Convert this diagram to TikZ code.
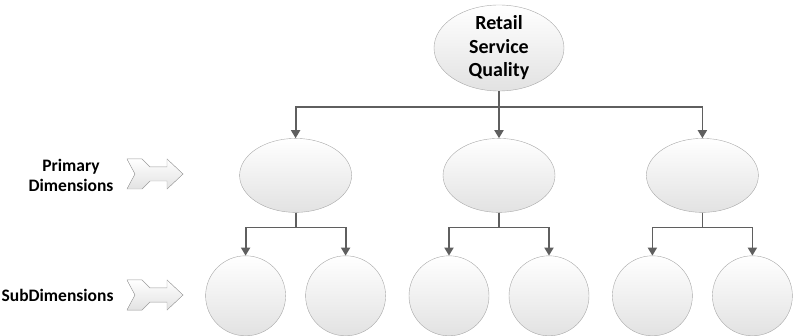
\documentclass[tikz,border=0pt]{standalone}
\usepackage{fontspec}
\setmainfont{Carlito}
\usetikzlibrary{positioning,shapes.geometric,arrows.meta}
\definecolor{linegray}{HTML}{5F5F5F}
\definecolor{rimgray}{HTML}{A8A8A8}
\definecolor{shadegray}{HTML}{E2E2E2}

\begin{document}
\begin{tikzpicture}[
    x=1pt, y=1pt,
    node distance=47pt and 91pt,
    every node/.style={font=\bfseries, align=center},
    oval/.style={ellipse, draw=rimgray, top color=white, bottom color=shadegray, inner sep=0pt},
    topoval/.style={oval, minimum width=130pt, minimum height=86pt},
    toptext/.style={font=\fontsize{20}{23.5}\selectfont\bfseries, align=center},
    primoval/.style={oval, minimum width=112pt, minimum height=74pt},
    suboval/.style={circle, draw=rimgray, top color=white, bottom color=shadegray, minimum size=80pt, inner sep=0pt},
    dimlabel/.style={font=\fontsize{17.5}{20}\selectfont\bfseries, anchor=east},
    arrow/.style={-{Triangle[length=8pt, width=9pt]}, draw=linegray, line width=1.8pt},
    chevron/.pic={
        \filldraw[draw=rimgray, top color=white, bottom color=shadegray]
          (-28,15) -- (-13,15) -- (-5,7) -- (12,7) -- (12,15) -- (28,0)
          -- (12,-15) -- (12,-7) -- (-5,-7) -- (-13,-15) -- (-28,-15) -- (-20,0) -- cycle;
    }
]
\useasboundingbox (0,0) rectangle (793,335);

% Nodes
\node[topoval, label={[toptext]center:Retail\\Service\\Quality}] (root) at (499,287) {};
\node[primoval, below=of root] (prim2) {};
\node[primoval, left=of prim2] (prim1) {};
\node[primoval, right=of prim2] (prim3) {};

\foreach \p/\a/\b in {1/1/2, 2/3/4, 3/5/6} {
  \node[suboval, below=43pt of prim\p, xshift=-50pt] (sub\a) {};
  \node[suboval, below=43pt of prim\p, xshift=50pt] (sub\b) {};
}

% Row markers
\coordinate (chevprim) at (155,161);
\coordinate (chevsub) at (155,40);
\pic at (chevprim) {chevron};
\pic at (chevsub) {chevron};
\node[dimlabel] (primlabel) at ([xshift=-38pt, yshift=-1pt]chevprim) {Primary\\Dimensions};
\node[dimlabel] (sublabel) at ([xshift=-38pt]chevsub) {SubDimensions};

% Arrows
\coordinate[below=16pt of root.south] (rootbar);
\foreach \p in {1,2,3}
  \draw[arrow] (root.south) -- (rootbar) -| (prim\p.north);

\foreach \p/\a/\b in {1/1/2, 2/3/4, 3/5/6} {
  \coordinate[below=15pt of prim\p.south] (primbar\p);
  \draw[arrow] (prim\p.south) -- (primbar\p) -| (sub\a.north);
  \draw[arrow] (prim\p.south) -- (primbar\p) -| (sub\b.north);
}

\end{tikzpicture}
\end{document}
